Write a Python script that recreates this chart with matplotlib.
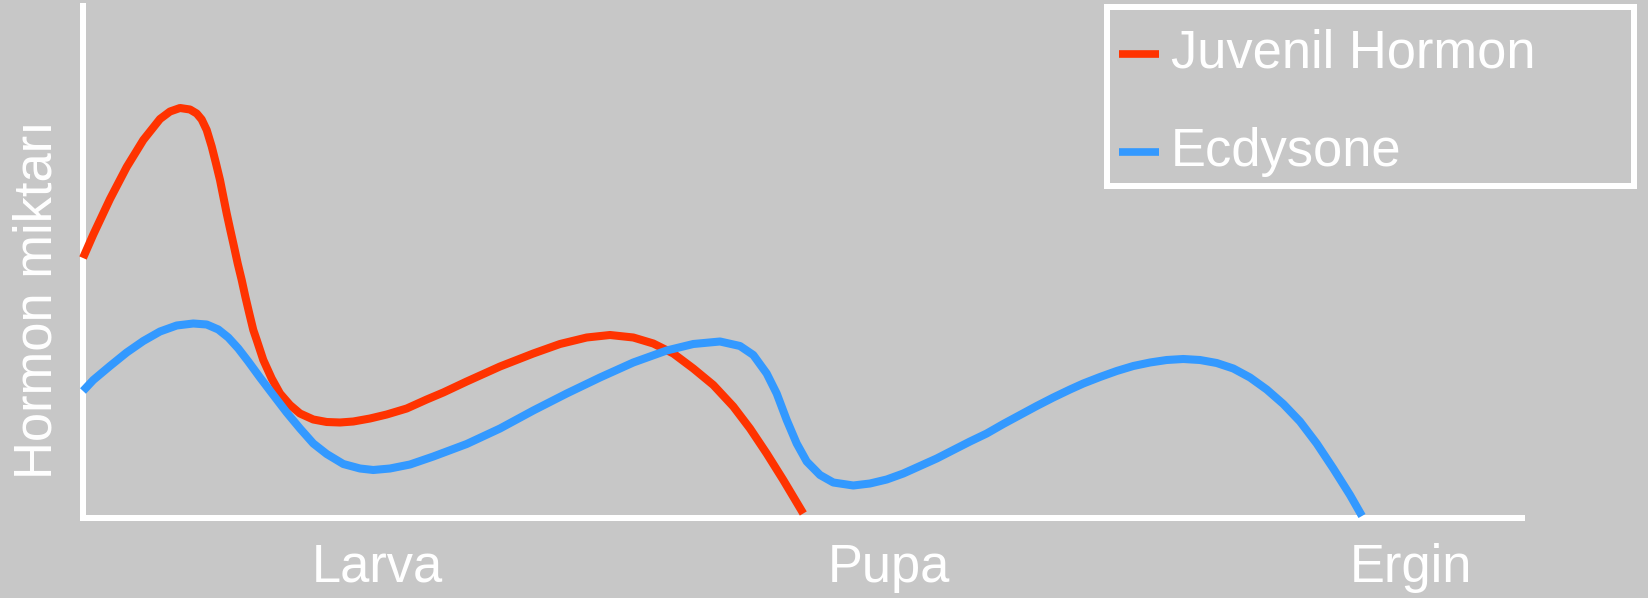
import matplotlib
matplotlib.use("Agg")
import matplotlib.pyplot as plt
import matplotlib.transforms as mtransforms
from matplotlib.patches import Rectangle
from matplotlib.lines import Line2D

# Developmental stages along the time axis
stages = ["Larva", "Pupa", "Ergin"]
stage_pos = [29.4, 80.6, 132.8]

# Juvenile hormone level over development (relative units)
jh_t = [0.0, 1.03, 2.70, 4.37, 6.03, 7.70, 8.70, 9.70, 10.70, 11.37, 11.87,
        12.37, 12.87, 13.30, 13.70, 14.03, 14.37, 14.73, 15.10, 15.47, 15.87,
        16.23, 16.63, 17.03, 17.37, 18.03, 18.87, 19.70, 20.70, 21.70, 23.03,
        24.37, 25.70, 27.03, 28.70, 30.37, 32.37, 34.37, 36.03, 38.37, 41.70,
        45.03, 47.70, 50.37, 52.70, 55.03, 57.03, 59.03, 61.03, 63.03, 65.03,
        66.70, 68.37, 70.03, 72.03]
jh_level = [52.0, 56.7, 63.8, 70.2, 75.6, 79.8, 81.3, 82.0, 81.7, 80.9, 79.7,
            77.6, 74.3, 70.9, 67.6, 64.3, 60.9, 57.6, 54.3, 50.9, 47.6,
            44.3, 40.9, 37.6, 35.6, 31.6, 27.9, 24.9, 22.6, 20.9, 19.7,
            19.2, 19.1, 19.3, 19.9, 20.7, 21.9, 23.7, 25.1, 27.3, 30.3,
            32.9, 34.8, 36.1, 36.6, 36.1, 34.9, 32.9, 29.9, 26.6, 22.3,
            17.9, 12.9, 7.6, 0.9]

# Ecdysone level over development (relative units)
ecd_t = [0.0, 1.03, 2.70, 4.37, 6.03, 7.70, 9.37, 11.03, 12.37, 13.53, 14.53,
         15.53, 16.53, 17.70, 19.03, 20.37, 21.70, 23.03, 24.37, 26.03, 27.70,
         29.03, 30.70, 32.70, 35.03, 38.37, 41.70, 45.03, 48.37, 51.70, 55.03,
         58.37, 61.03, 63.70, 65.70, 67.03, 68.37, 69.37, 70.37, 71.37, 72.37,
         73.70, 75.03, 77.03, 78.70, 80.37, 82.03, 83.70, 85.37, 87.03, 88.70,
         90.37, 92.03, 93.70, 95.37, 97.03, 98.70, 100.03, 101.70, 103.37,
         105.03, 106.70, 108.37, 110.03, 111.70, 113.37, 115.03, 116.70,
         118.37, 120.03, 121.70, 123.37, 125.03, 126.70, 127.90]
ecd_level = [25.4, 27.6, 30.4, 33.1, 35.4, 37.3, 38.5, 38.9, 38.7, 37.7, 36.1,
             33.9, 31.3, 28.1, 24.6, 21.1, 17.9, 14.9, 12.8, 10.8, 9.9,
             9.6, 9.9, 10.7, 12.3, 14.8, 17.9, 21.5, 24.9, 28.1, 31.1,
             33.5, 34.8, 35.3, 34.4, 32.6, 28.9, 24.9, 19.6, 14.9, 11.3,
             8.6, 7.1, 6.5, 6.9, 7.7, 8.9, 10.4, 11.9, 13.6, 15.3,
             16.9, 18.8, 20.6, 22.4, 24.1, 25.7, 26.9, 28.2, 29.4,
             30.4, 31.1, 31.6, 31.8, 31.6, 31.0, 29.9, 28.1,
             25.7, 22.8, 19.3, 14.9, 9.9, 4.6, 0.4]

series_names = ["Juvenil Hormon", "Ecdysone"]
y_label = "Hormon miktarı"

BG = "#c7c7c7"
RED = "#ff3300"
BLUE = "#3399ff"
FONT = "Liberation Sans"
FS = 37.8

W, H = 1648, 598
plt.rcParams["font.family"] = [FONT, "DejaVu Sans"]

fig = plt.figure(figsize=(W / 100, H / 100), dpi=100, facecolor=BG)
# pixel coordinates measured from the top-left corner of the figure
px = mtransforms.Affine2D().scale(1 / W, -1 / H).translate(0, 1) + fig.transFigure

ax = fig.add_axes([83 / W, 1 - 518 / H, (1522 - 83) / W, (518 - 6) / H])
ax.set_facecolor(BG)

for t, lvl, col in [(jh_t, jh_level, RED), (ecd_t, ecd_level, BLUE)]:
    ax.plot(t, lvl, color=col, lw=5.8, solid_capstyle="butt",
            solid_joinstyle="round", clip_on=False, zorder=3)

ax.set_xlim(0, 143.9)
ax.set_ylim(0, 102.4)
for s in ["top", "right"]:
    ax.spines[s].set_visible(False)
for s in ["left", "bottom"]:
    ax.spines[s].set_color("white")
    ax.spines[s].set_linewidth(4.32)
    ax.spines[s].set_capstyle("projecting")

ax.set_xticks(stage_pos, stages)
ax.set_yticks([])
ax.tick_params(axis="x", length=0, pad=18, labelsize=FS, labelcolor="white")

fig.text(13, 299.5, y_label, transform=px, rotation=90, ha="left",
         va="center", fontsize=FS, color="white")

# Legend box
fig.add_artist(Rectangle((1106.6, 7.2), 527, 179, transform=px, fill=False,
                         edgecolor="white", linewidth=4.32, joinstyle="miter"))
for name, col, yc, yb in [(series_names[0], RED, 53.8, 68),
                          (series_names[1], BLUE, 151.5, 166)]:
    fig.add_artist(Line2D([1119, 1159], [yc, yc], transform=px, color=col,
                          lw=5.5, solid_capstyle="butt"))
    fig.text(1171, yb, name, transform=px, ha="left", va="baseline",
             fontsize=FS, color="white")

fig.savefig("out.png", dpi=100, facecolor=BG)
